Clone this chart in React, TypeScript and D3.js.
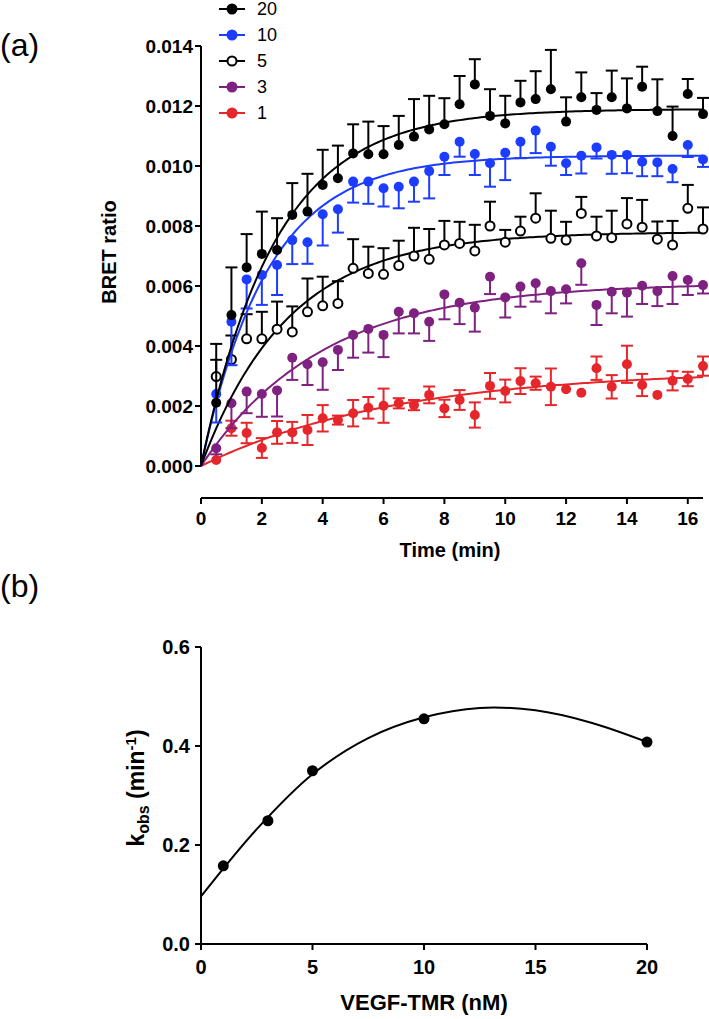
import React from "react";
import * as d3 from "d3";

// ---------- Panel (a): BRET association kinetics (values ×10^-3) ----------
const times = [0.5, 1, 1.5, 2, 2.5, 3, 3.5, 4, 4.5, 5, 5.5, 6, 6.5, 7, 7.5, 8, 8.5, 9, 9.5, 10, 10.5, 11, 11.5, 12, 12.5, 13, 13.5, 14, 14.5, 15, 15.5, 16, 16.5];
const concLabels = ["20", "10", "5", "3", "1"];

const bret20 = [2.11, 5.03, 6.62, 7.07, 7.2, 8.37, 8.48, 9.37, 9.59, 10.42, 10.39, 10.39, 10.7, 10.98, 11.22, 11.39, 12.06, 12.72, 11.67, 11.42, 12.12, 12.23, 12.56, 11.48, 12.29, 11.87, 12.29, 11.92, 12.64, 11.83, 11.0, 12.4, 11.73];
const err20 = [1.96, 1.59, 1.11, 1.41, 1.06, 1.06, 1.26, 1.17, 1.09, 0.97, 1.09, 0.94, 0.97, 1.25, 1.12, 0.87, 0.94, 0.84, 0.89, 0.92, 0.72, 0.93, 1.31, 0.81, 0.83, 0.56, 0.89, 1.0, 0.67, 1.06, 0.98, 0.5, 0.54];

const bret10 = [2.4, 4.81, 6.22, 6.37, 6.7, 7.53, 7.46, 8.39, 8.56, 9.48, 9.48, 9.26, 9.31, 9.48, 9.83, 10.31, 10.81, 10.4, 10.09, 10.44, 10.81, 11.18, 10.64, 10.09, 10.34, 10.62, 10.37, 10.37, 10.14, 10.12, 9.9, 10.7, 10.22];
const err10 = [0.95, 1.45, 0.97, 1.0, 1.0, 0.8, 0.72, 1.04, 0.78, 0.7, 0.74, 0.61, 0.72, 0.67, 0.91, 0.61, 0.5, 0.7, 0.78, 0.91, 0.55, 0.75, 0.63, 0.39, 0.59, 0.37, 0.63, 0.61, 0.48, 0.46, 0.44, 0.4, 0.25];

const bret5 = [2.98, 3.55, 4.24, 4.24, 4.56, 4.47, 5.14, 5.34, 5.42, 6.59, 6.42, 6.39, 6.68, 7.0, 6.89, 7.37, 7.42, 7.17, 8.0, 7.46, 7.83, 8.26, 7.59, 7.53, 8.42, 7.67, 7.61, 8.07, 7.96, 7.56, 7.37, 8.59, 7.9];
const err5 = [0.56, 0.8, 0.82, 0.9, 0.92, 0.85, 1.11, 0.97, 0.74, 0.97, 0.89, 0.87, 0.83, 0.94, 1.01, 0.8, 0.72, 0.87, 0.81, 0.41, 0.48, 0.83, 0.92, 0.61, 0.55, 0.64, 0.9, 0.86, 0.91, 0.59, 0.8, 0.78, 0.72];

const bret3 = [0.59, 2.09, 2.48, 2.4, 2.52, 3.61, 3.39, 3.46, 3.87, 4.37, 4.57, 4.37, 5.14, 5.09, 4.81, 5.72, 5.44, 5.28, 6.31, 5.62, 5.98, 6.09, 5.83, 5.89, 6.76, 5.37, 5.81, 5.78, 6.01, 5.83, 6.33, 6.2, 6.03];
const err3 = [0.2, 0.83, 0.72, 0.76, 0.87, 0.74, 0.69, 0.92, 0.67, 0.76, 0.79, 0.74, 0.72, 0.67, 0.64, 0.83, 0.71, 0.8, 0.58, 0.67, 0.67, 0.61, 0.74, 0.47, 0.72, 0.67, 0.72, 0.8, 0.61, 0.5, 0.93, 0.5, 0.28];

const bret1 = [0.2, 1.26, 1.1, 0.6, 1.12, 1.12, 1.2, 1.59, 1.53, 1.76, 1.94, 2.01, 2.09, 2.03, 2.37, 1.92, 2.2, 1.7, 2.67, 2.5, 2.83, 2.76, 2.64, 2.56, 2.44, 3.26, 2.64, 3.39, 2.7, 2.37, 2.84, 2.9, 3.33];
const err1 = [0, 0.25, 0.34, 0.33, 0.38, 0.35, 0.5, 0.44, 0.15, 0.44, 0.36, 0.57, 0.17, 0.17, 0.28, 0.29, 0.33, 0.42, 0.43, 0.38, 0.43, 0.22, 0.61, 0, 0, 0.39, 0.39, 0.62, 0.37, 0, 0.32, 0.24, 0.32];

// one-phase association fit parameters per concentration
const fitYmax = [11.9, 10.35, 7.8, 6.1, 3.2];
const fitK = [0.408, 0.455, 0.35, 0.25, 0.158];

const seriesColors = ["#000000", "#1c3cff", "#000000", "#7e2180", "#e5262b"];
const seriesFilled = [true, true, false, true, true];
const seriesErrDir = ["up", "down", "up", "down", "both"];

const bretTicks = [0, 0.002, 0.004, 0.006, 0.008, 0.01, 0.012, 0.014];
const timeTicks = [0, 2, 4, 6, 8, 10, 12, 14, 16];

// ---------- Panel (b): kobs vs concentration ----------
const kConc = [1, 3, 5, 10, 20];
const kObs = [0.158, 0.249, 0.35, 0.455, 0.408];
const kFitX = [0, 2.5, 5, 7.5, 10, 12.5, 15, 17.5, 20];
const kFitY = [0.096, 0.232, 0.343, 0.416, 0.458, 0.477, 0.472, 0.447, 0.408];
const kTicksY = [0, 0.2, 0.4, 0.6];
const kTicksX = [0, 5, 10, 15, 20];

const FONT = "'Liberation Sans', Arial, Helvetica, sans-serif";

export default function App() {
  const W = 709, H = 1019;
  const values = [bret20, bret10, bret5, bret3, bret1];
  const errors = [err20, err10, err5, err3, err1];

  // Panel a scales
  const xA = d3.scaleLinear().domain([0, 16.5]).range([201, 703]);
  const yA = d3.scaleLinear().domain([0, 0.014]).range([466, 46]);
  const xAxisY = 498;
  const fmtA = d3.format(".3f");

  // Panel b scales
  const xB = d3.scaleLinear().domain([0, 20]).range([201, 647]);
  const yB = d3.scaleLinear().domain([0, 0.6]).range([944, 647]);
  const fmtB = d3.format(".1f");

  const tSamples = d3.range(0, 16.5001, 0.1);
  const curves = fitYmax.map((ym, s) => {
    const pts: [number, number][] = tSamples.map((t) => [xA(t), yA(ym * 1e-3 * (1 - Math.exp(-fitK[s] * t)))]);
    return d3.line()(pts) || "";
  });

  const kLine =
    d3
      .line<number>()
      .x((_, i) => xB(kFitX[i]))
      .y((v) => yB(v))
      .curve(d3.curveCatmullRom.alpha(0.5))(kFitY) || "";

  const capW = 6;
  const r = 5;
  const order = [4, 3, 2, 1, 0];

  return (
    <svg width={W} height={H} style={{ position: "absolute", left: 0, top: 0, background: "#fff" }} fontFamily={FONT}>
      <rect x={0} y={0} width={W} height={H} fill="#fff" />
      {/* panel labels */}
      <text x={0} y={56} fontSize={32}>(a)</text>
      <text x={0} y={597} fontSize={32}>(b)</text>

      {/* ---------- Panel a ---------- */}
      <line x1={201} x2={201} y1={yA(0.014)} y2={yA(0)} stroke="#000" strokeWidth={2} />
      {bretTicks.map((t) => (
        <g key={"ya" + t}>
          <line x1={195} x2={201} y1={yA(t)} y2={yA(t)} stroke="#000" strokeWidth={2} />
          <text x={193} y={yA(t)} dy="0.35em" textAnchor="end" fontSize={19} fontWeight="bold">{fmtA(t)}</text>
        </g>
      ))}
      <text transform={`translate(116,${yA(0.007) - 4}) rotate(-90)`} textAnchor="middle" fontSize={20} fontWeight="bold">BRET ratio</text>

      <line x1={xA(0)} x2={xA(16.5)} y1={xAxisY} y2={xAxisY} stroke="#000" strokeWidth={2} />
      {timeTicks.map((t) => (
        <g key={"xa" + t}>
          <line x1={xA(t)} x2={xA(t)} y1={xAxisY} y2={xAxisY + 6} stroke="#000" strokeWidth={2} />
          <text x={xA(t)} y={518} dy="0.35em" textAnchor="middle" fontSize={19} fontWeight="bold">{t}</text>
        </g>
      ))}
      <text x={450} y={550} dy="0.35em" textAnchor="middle" fontSize={20} fontWeight="bold">Time (min)</text>

      {order.map((s) => (
        <g key={"s" + s}>
          <path d={curves[s]} fill="none" stroke={seriesColors[s]} strokeWidth={2} />
          {times.map((t, i) => {
            const v = values[s][i] * 1e-3;
            const e = errors[s][i] * 1e-3;
            const cx = xA(t);
            const cy = yA(v);
            const dir = seriesErrDir[s];
            const bars: number[] = [];
            if (e > 0) {
              if (dir === "up" || dir === "both") bars.push(yA(v + e));
              if (dir === "down" || dir === "both") bars.push(yA(v - e));
            }
            return (
              <g key={i}>
                {bars.map((yy, j) => (
                  <g key={j}>
                    <line x1={cx} x2={cx} y1={cy} y2={yy} stroke={seriesColors[s]} strokeWidth={2} />
                    <line x1={cx - capW} x2={cx + capW} y1={yy} y2={yy} stroke={seriesColors[s]} strokeWidth={2} />
                  </g>
                ))}
                <circle cx={cx} cy={cy} r={seriesFilled[s] ? r : r - 0.5} fill={seriesFilled[s] ? seriesColors[s] : "#fff"} stroke={seriesColors[s]} strokeWidth={seriesFilled[s] ? 0 : 2} />
              </g>
            );
          })}
        </g>
      ))}

      {/* legend */}
      {concLabels.map((c, i) => {
        const ly = 9 + i * 26;
        return (
          <g key={"lg" + c}>
            <line x1={219} x2={245} y1={ly} y2={ly} stroke={seriesColors[i]} strokeWidth={2} />
            <circle cx={232} cy={ly} r={seriesFilled[i] ? 5.5 : 4.5} fill={seriesFilled[i] ? seriesColors[i] : "#fff"} stroke={seriesColors[i]} strokeWidth={seriesFilled[i] ? 0 : 2} />
            <text x={257} y={ly} dy="0.36em" fontSize={18}>{c}</text>
          </g>
        );
      })}

      {/* ---------- Panel b ---------- */}
      <line x1={201} x2={201} y1={yB(0.6)} y2={yB(0)} stroke="#000" strokeWidth={2} />
      {kTicksY.map((t) => (
        <g key={"yb" + t}>
          <line x1={195} x2={201} y1={yB(t)} y2={yB(t)} stroke="#000" strokeWidth={2} />
          <text x={190} y={yB(t)} dy="0.35em" textAnchor="end" fontSize={20} fontWeight="bold">{fmtB(t)}</text>
        </g>
      ))}
      <line x1={201} x2={xB(20)} y1={yB(0)} y2={yB(0)} stroke="#000" strokeWidth={2} />
      {kTicksX.map((t) => (
        <g key={"xb" + t}>
          <line x1={xB(t)} x2={xB(t)} y1={yB(0)} y2={yB(0) + 6} stroke="#000" strokeWidth={2} />
          <text x={xB(t)} y={967} dy="0.35em" textAnchor="middle" fontSize={20} fontWeight="bold">{t}</text>
        </g>
      ))}
      <text x={424} y={1002} dy="0.35em" textAnchor="middle" fontSize={22} fontWeight="bold">VEGF-TMR (nM)</text>
      <text transform={`translate(144,788) rotate(-90)`} textAnchor="middle" fontSize={23} fontWeight="bold">
        k<tspan fontSize={16} dy={5}>obs</tspan>
        <tspan dy={-5}> (min</tspan>
        <tspan fontSize={15} dy={-8}>-1</tspan>
        <tspan dy={8}>)</tspan>
      </text>
      <path d={kLine} fill="none" stroke="#000" strokeWidth={2} />
      {kConc.map((c, i) => (
        <circle key={"kp" + c} cx={xB(c)} cy={yB(kObs[i])} r={5.5} fill="#000" />
      ))}
    </svg>
  );
}
